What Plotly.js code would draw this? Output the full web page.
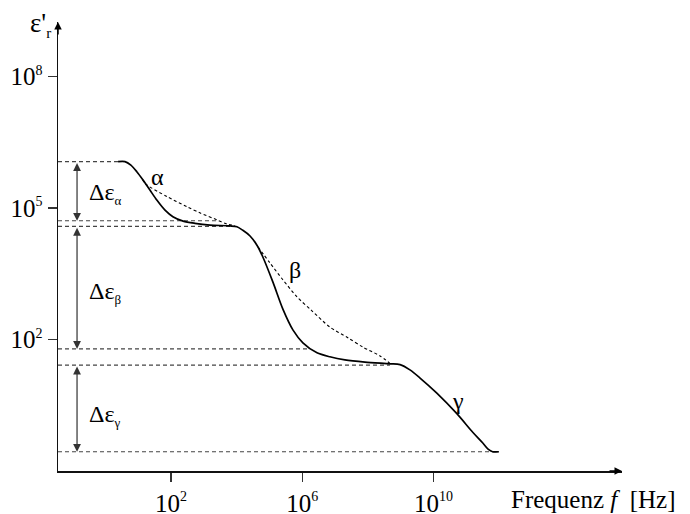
<!DOCTYPE html>
<html><head><meta charset="utf-8">
<script src="https://cdn.plot.ly/plotly-3.0.1.min.js"></script>
<style>
html,body{margin:0;padding:0;background:#fff}
#chart{width:690px;height:514px}
#chart svg text, #chart svg tspan{font-family:"Liberation Serif","DejaVu Serif",serif !important;}
</style>
</head><body><div id="chart"></div>
<script>
// All values are decimal exponents: log10(f / Hz) and log10(eps'_r)
const solidLogF   = [0.39,0.60,0.78,0.96,1.15,1.36,1.57,1.82,2.06,2.37,2.73,3.19,3.80,4.01,4.19,4.41,4.62,4.80,5.11,5.41,5.72,6.02,6.45,6.84,7.30,7.91,8.67,8.98,9.28,9.58,10.10,10.71,11.20,11.50,11.66,11.80,11.99];
const solidLogEps = [6.06,6.06,5.98,5.83,5.64,5.41,5.18,4.95,4.80,4.70,4.65,4.61,4.59,4.57,4.49,4.36,4.15,3.88,3.30,2.69,2.21,1.92,1.69,1.60,1.53,1.48,1.44,1.42,1.30,1.12,0.77,0.30,-0.13,-0.37,-0.51,-0.57,-0.57];

const alphaDashLogF   = [1.13,1.21,1.88,2.49,2.88,3.40,3.71,3.95];
const alphaDashLogEps = [5.66,5.56,5.26,5.03,4.89,4.73,4.63,4.60];

const betaDashLogF   = [4.65,5.02,5.41,5.84,6.28,6.84,7.40,7.85,8.37,8.67];
const betaDashLogEps = [4.11,3.74,3.36,2.97,2.66,2.28,2.03,1.82,1.62,1.45];

// horizontal reference levels and where each dashed guide ends
const levelLogEps  = [6.06,4.71,4.58,1.78,1.41,-0.57];
const levelEndLogF = [0.39,3.45,3.90,6.23,8.67,11.99];

const relaxNames = ['α','β','γ'];
const relaxLabelLogF   = [1.60,5.78,10.73];
const relaxLabelLogEps = [5.71,3.59,0.59];
const deltaLabelLogEps = [5.34,3.08,0.25];

const xTickVals = [2,6,10];
const yTickVals = [2,5,8];

const FONT = 'Liberation Serif';
const sup = v => '10<sup><span style="font-size:14px">' + v + '</span></sup>';

const X0 = -1.44, X1 = 15.74, Y0 = -1.01, Y1 = 9.25;
const arrowX = -0.86, labelX = -0.56;

const traces = [];
const gx = [], gy = [];
levelLogEps.forEach((v,i)=>{ gx.push(X0, levelEndLogF[i], null); gy.push(v, v, null); });
traces.push({x:gx, y:gy, mode:'lines', line:{color:'#444', width:1.1, dash:'4px,3px'}, hoverinfo:'skip', connectgaps:false});
traces.push({x:alphaDashLogF, y:alphaDashLogEps, mode:'lines', line:{color:'#000', width:1.1, dash:'3px,2.5px', shape:'spline', smoothing:0.8}, hoverinfo:'skip'});
traces.push({x:betaDashLogF, y:betaDashLogEps, mode:'lines', line:{color:'#000', width:1.1, dash:'3px,2.5px', shape:'spline', smoothing:0.8}, hoverinfo:'skip'});
traces.push({x:solidLogF, y:solidLogEps, mode:'lines', line:{color:'#000', width:1.7, shape:'spline', smoothing:0.8}, hoverinfo:'skip'});

const ann = [];
ann.push({xref:'paper', yref:'paper', x:1, y:0, ax:-14, ay:0, axref:'pixel', ayref:'pixel', text:'', showarrow:true, arrowhead:2, arrowsize:1, arrowwidth:1.5, arrowcolor:'#000'});
ann.push({xref:'paper', yref:'paper', x:0, y:1, ax:0, ay:14, axref:'pixel', ayref:'pixel', text:'', showarrow:true, arrowhead:2, arrowsize:1, arrowwidth:1.5, arrowcolor:'#000'});
for (let k=0;k<3;k++){
  const top = levelLogEps[2*k], bot = levelLogEps[2*k+1];
  ann.push({xref:'x', yref:'y', axref:'x', ayref:'y', x:arrowX, y:bot, ax:arrowX, ay:top, text:'', showarrow:true,
    arrowhead:2, startarrowhead:2, arrowside:'end+start', arrowsize:1.3, startarrowsize:1.3, arrowwidth:1.2, arrowcolor:'#333'});
  ann.push({xref:'x', yref:'y', x:labelX, y:deltaLabelLogEps[k], xanchor:'left', yanchor:'middle', showarrow:false,
    text:'Δε<sub><span style="font-size:13px">'+relaxNames[k]+'</span></sub>', font:{family:FONT, size:24, color:'#000'}});
  ann.push({xref:'x', yref:'y', x:relaxLabelLogF[k], y:relaxLabelLogEps[k], xanchor:'center', yanchor:'middle', showarrow:false,
    text:relaxNames[k], font:{family:FONT, size:24, color:'#000'}});
}
ann.push({xref:'paper', yref:'paper', x:(53-58)/564, y:(471-25)/449, xanchor:'right', yanchor:'middle', showarrow:false,
  text:"ε'<sub><span style=\"font-size:15px\">r</span></sub>", font:{family:FONT, size:27, color:'#000'}});
ann.push({xref:'paper', yref:'paper', x:(509-58)/564, y:(471-499)/449, xanchor:'left', yanchor:'middle', showarrow:false,
  text:'Frequenz\u00a0<i>f</i>\u00a0\u00a0[Hz]', font:{family:FONT, size:25, color:'#000'}});

const axBase = {showgrid:false, zeroline:false, showline:true, linecolor:'#111', linewidth:1.5,
  ticks:'outside', ticklen:9, tickwidth:1.5, tickcolor:'#333', tickmode:'array',
  tickfont:{family:FONT, size:25, color:'#000'}, fixedrange:true};

const layout = {
  font:{family:FONT, color:'#000'},
  width:690, height:514, margin:{l:58, r:68, t:22, b:43},
  paper_bgcolor:'#fff', plot_bgcolor:'#fff', showlegend:false,
  xaxis:Object.assign({}, axBase, {range:[X0,X1], tickvals:xTickVals, ticktext:xTickVals.map(sup)}),
  yaxis:Object.assign({}, axBase, {range:[Y0,Y1], tickvals:yTickVals, ticktext:yTickVals.map(sup)}),
  annotations:ann
};
Plotly.newPlot('chart', traces, layout, {displayModeBar:false, staticPlot:true});
</script></body></html>
